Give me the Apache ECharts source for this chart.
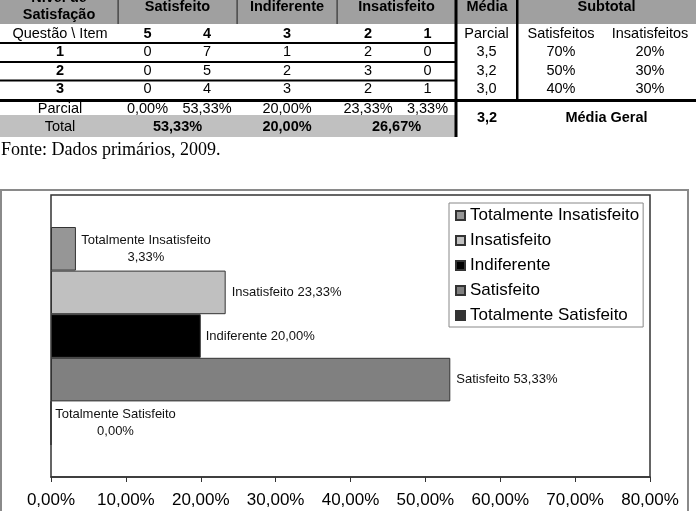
<!DOCTYPE html>
<html>
<head>
<meta charset="utf-8">
<script src="https://cdn.jsdelivr.net/npm/echarts@6/dist/echarts.min.js"></script>
<style>
  html, body { margin: 0; padding: 0; background: #fff; }
  #main { width: 696px; height: 511px; }
</style>
</head>
<body>
<div id="main"></div>
<script>
// tabela
var niveis = ['Satisfeito', 'Indiferente', 'Insatisfeito'];
var itens = ['5', '4', '3', '2', '1'];
var questoes = ['1', '2', '3'];
var respostas = [[0, 7, 1, 2, 0], [0, 5, 2, 3, 0], [0, 4, 3, 2, 1]];
var mediaQ = ['3,5', '3,2', '3,0'];
var satisfeitosQ = ['70%', '50%', '40%'];
var insatisfeitosQ = ['20%', '30%', '30%'];
var parcial = ['0,00%', '53,33%', '20,00%', '23,33%', '3,33%'];
var totais = ['53,33%', '20,00%', '26,67%'];
var mediaGeral = '3,2';

// grafico
var categorias = ['Totalmente Insatisfeito', 'Insatisfeito', 'Indiferente', 'Satisfeito', 'Totalmente Satisfeito'];
var percentuais = [3.33, 23.33, 20.00, 53.33, 0.00];
var cores = ['#969696', '#c0c0c0', '#000000', '#808080', '#333333'];
var ticks = [0, 10, 20, 30, 40, 50, 60, 70, 80];

var FONT = '"Liberation Sans", Arial, sans-serif';

function pct(v) {
  return v.toFixed(2).replace('.', ',') + '%';
}

function txt(x, y, s, bold, extra) {
  var st = {
    text: s, x: x, y: y, fill: '#000',
    font: (bold ? 'bold ' : '') + '14.5px ' + FONT,
    align: 'center', verticalAlign: 'middle',
    textAlign: 'center', textVerticalAlign: 'middle'
  };
  for (var k in extra) st[k] = extra[k];
  return { type: 'text', silent: true, z: 10, style: st };
}
function box(x, y, w, h, fill, z) {
  return { type: 'rect', silent: true, z: z || 5, shape: { x: x, y: y, width: w, height: h }, style: { fill: fill } };
}

var graficos = [];
// fundo cabecalho e total
graficos.push(box(0, -12, 696, 36, '#a0a0a0', 1));
graficos.push(box(0, 115, 456, 22, '#c0c0c0', 1));
// linhas
graficos.push(box(117.5, 0, 1.2, 24, '#333'));
graficos.push(box(236.5, 0, 1.2, 24, '#333'));
graficos.push(box(336.5, 0, 1.2, 24, '#333'));
graficos.push(box(454.5, 0, 3, 137, '#000'));
graficos.push(box(516, 0, 2.5, 100, '#000'));
[42, 61, 79.5].forEach(function (y) { graficos.push(box(0, y, 456, 2, '#000')); });
graficos.push(box(0, 99, 696, 3, '#000'));

// cabecalho
var colX = [60, 147.5, 207, 287, 368, 427.5, 486.5, 561, 650];
graficos.push(txt(59, 6.5, 'Nível de\nSatisfação', true, { lineHeight: 17 }));
graficos.push(txt(177.5, 7, niveis[0], true));
graficos.push(txt(287, 7, niveis[1], true));
graficos.push(txt(396.5, 7, niveis[2], true));
graficos.push(txt(487, 7, 'Média', true));
graficos.push(txt(606.5, 7, 'Subtotal', true));

// linha de itens
graficos.push(txt(colX[0], 33.5, 'Questão \\ Item', false));
itens.forEach(function (it, i) { graficos.push(txt(colX[i + 1], 33.5, it, true)); });
graficos.push(txt(colX[6], 33.5, 'Parcial', false));
graficos.push(txt(colX[7], 33.5, 'Satisfeitos', false));
graficos.push(txt(colX[8], 33.5, 'Insatisfeitos', false));

// questoes
var rowY = [52, 70.5, 89];
questoes.forEach(function (q, r) {
  graficos.push(txt(colX[0], rowY[r], q, true));
  respostas[r].forEach(function (v, i) { graficos.push(txt(colX[i + 1], rowY[r], String(v), false)); });
  graficos.push(txt(colX[6], rowY[r], mediaQ[r], false));
  graficos.push(txt(colX[7], rowY[r], satisfeitosQ[r], false));
  graficos.push(txt(colX[8], rowY[r], insatisfeitosQ[r], false));
});

// parcial / total
graficos.push(txt(colX[0], 108.5, 'Parcial', false));
parcial.forEach(function (v, i) { graficos.push(txt(colX[i + 1], 108.5, v, false)); });
graficos.push(txt(colX[0], 127, 'Total', false));
graficos.push(txt(177.5, 127, totais[0], true));
graficos.push(txt(287, 127, totais[1], true));
graficos.push(txt(396.5, 127, totais[2], true));
graficos.push(txt(487, 117.5, mediaGeral, true));
graficos.push(txt(606.5, 117.5, 'Média Geral', true));

// fonte
graficos.push({
  type: 'text', silent: true,
  style: { text: 'Fonte: Dados primários, 2009.', x: 1, y: 150.5, fill: '#000',
    font: '18px "Liberation Serif", "Times New Roman", serif',
    align: 'left', verticalAlign: 'middle', textAlign: 'left', textVerticalAlign: 'middle' }
});

// moldura do grafico
graficos.push({
  type: 'rect', silent: true, z: 0,
  shape: { x: 1, y: 190, width: 687, height: 340 },
  style: { fill: 'none', stroke: '#8a8a8a', lineWidth: 2 }
});

// posicao dos rotulos (distancia e alinhamento)
var rotulos = [
  { distance: 70, align: 'center', dois: true },
  { distance: 6, align: 'left' },
  { distance: 5, align: 'left' },
  { distance: 6, align: 'left' },
  { distance: 64, align: 'center', dois: true }
];

var series = categorias.map(function (nome, i) {
  var r = rotulos[i];
  return {
    name: nome,
    type: 'bar',
    data: [percentuais[i]],
    barGap: '0%',
    barCategoryGap: '22.7%',
    itemStyle: { color: cores[i], borderColor: '#333', borderWidth: 1 },
    label: {
      show: true,
      position: 'right',
      distance: r.distance,
      align: r.align,
      color: '#111',
      fontFamily: FONT,
      fontSize: 13,
      lineHeight: 17,
      formatter: function (p) {
        return p.seriesName + (r.dois ? '\n' : ' ') + pct(p.value);
      }
    }
  };
});

var chart = echarts.init(document.getElementById('main'), null, { renderer: 'canvas' });
chart.setOption({
  animation: false,
  backgroundColor: '#fff',
  graphic: graficos,
  grid: {
    left: 51, right: 46, top: 195, bottom: 34,
    show: true, borderColor: '#333', borderWidth: 1.5, backgroundColor: '#fff'
  },
  legend: {
    data: categorias,
    orient: 'vertical',
    left: 449, top: 203,
    padding: [4, 4, 3, 6],
    itemGap: 8,
    itemWidth: 9, itemHeight: 9,
    icon: 'rect',
    selectedMode: false,
    backgroundColor: '#fff',
    borderColor: '#888',
    borderWidth: 1,
    textStyle: { fontFamily: FONT, fontSize: 17, color: '#000' }
  },
  xAxis: {
    type: 'value',
    min: ticks[0], max: ticks[ticks.length - 1], interval: 10,
    splitLine: { show: false },
    axisLine: { show: true, lineStyle: { color: '#333', width: 1.5 } },
    axisTick: { show: true, length: 5, lineStyle: { color: '#333' } },
    axisLabel: {
      margin: 15, color: '#000', fontFamily: FONT, fontSize: 17,
      formatter: function (v) { return pct(v); }
    }
  },
  yAxis: {
    type: 'category',
    data: [''],
    axisLine: { show: false },
    axisTick: { show: false },
    axisLabel: { show: false }
  },
  series: series
});
</script>
</body>
</html>
